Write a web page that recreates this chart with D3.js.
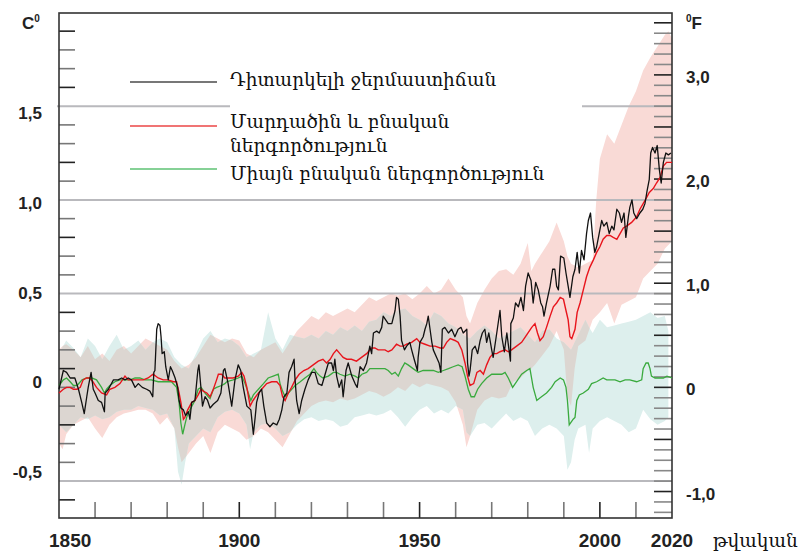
<!DOCTYPE html>
<html>
<head>
<meta charset="utf-8">
<script src="https://cdn.jsdelivr.net/npm/d3@7"></script>
<style>
  body { margin: 0; background: #fff; }
  svg { display: block; }
</style>
</head>
<body>
<svg id="chart"></svg>
<script>
// Observed temperature (black), [year, °C]
const observed = [
  [1850.0,-0.01],[1851.2,0.09],[1852.1,0.08],[1853.1,0.05],[1854.4,0.05],[1855.4,-0.01],[1856.3,-0.08],[1857.0,-0.14],[1857.7,-0.05],[1858.1,0.00],[1858.9,0.08],[1859.5,-0.01],[1860.0,-0.03],[1860.9,-0.07],[1861.8,-0.08],[1862.6,-0.13],[1862.8,-0.03],[1863.7,-0.01],[1865.1,0.04],[1866.4,0.04],[1867.4,0.05],[1868.3,0.04],[1869.2,0.05],[1870.1,0.04],[1871.1,0.00],[1872.0,0.02],[1873.1,0.00],[1874.3,-0.01],[1875.2,-0.02],[1876.0,-0.05],[1876.3,0.08],[1876.6,0.09],[1877.1,0.31],[1877.5,0.34],[1878.0,0.33],[1878.3,0.27],[1878.6,0.18],[1879.2,0.19],[1879.6,0.11],[1880.3,0.04],[1880.9,0.11],[1881.4,0.09],[1882.2,0.05],[1882.9,0.00],[1883.3,-0.07],[1883.8,-0.11],[1884.5,-0.12],[1885.1,-0.15],[1885.9,-0.13],[1886.3,-0.17],[1886.8,-0.08],[1887.7,-0.07],[1888.5,0.09],[1888.8,0.12],[1889.4,-0.01],[1889.8,-0.10],[1890.5,-0.05],[1891.2,-0.07],[1891.9,-0.11],[1892.8,-0.09],[1894.0,-0.07],[1894.9,-0.03],[1895.6,0.09],[1896.0,0.10],[1896.9,0.02],[1897.9,-0.10],[1898.8,0.04],[1899.7,0.12],[1900.4,0.09],[1901.1,0.00],[1902.1,-0.10],[1903.2,-0.12],[1903.9,-0.25],[1904.4,-0.16],[1904.8,-0.08],[1905.5,-0.03],[1906.2,-0.01],[1906.8,-0.10],[1907.6,-0.19],[1908.5,-0.21],[1909.4,-0.19],[1910.4,-0.20],[1911.1,-0.17],[1911.8,-0.12],[1912.4,-0.05],[1913.2,-0.03],[1913.8,0.08],[1914.5,0.11],[1915.2,0.15],[1915.4,0.06],[1915.9,-0.07],[1916.6,-0.14],[1917.3,-0.07],[1918.2,-0.01],[1919.1,0.04],[1920.1,0.08],[1921.0,0.08],[1921.9,0.02],[1922.9,0.01],[1923.8,0.07],[1924.7,0.13],[1925.6,0.13],[1926.1,0.09],[1926.5,0.15],[1927.0,0.06],[1927.7,0.00],[1928.4,0.04],[1928.8,-0.05],[1929.6,0.09],[1930.2,0.13],[1931.2,0.06],[1932.1,0.02],[1932.7,0.00],[1933.5,0.11],[1934.4,0.09],[1935.3,0.13],[1936.2,0.22],[1936.7,0.18],[1937.2,0.29],[1938.1,0.30],[1938.8,0.29],[1939.5,0.32],[1939.9,0.38],[1940.6,0.36],[1941.3,0.34],[1942.3,0.34],[1943.2,0.41],[1943.6,0.48],[1944.1,0.47],[1944.6,0.38],[1945.0,0.25],[1945.8,0.20],[1946.4,0.22],[1947.3,0.24],[1947.8,0.20],[1948.5,0.15],[1949.4,0.09],[1949.6,0.16],[1950.1,0.24],[1951.0,0.27],[1951.5,0.31],[1952.0,0.34],[1952.4,0.38],[1952.9,0.31],[1953.4,0.24],[1953.8,0.20],[1954.7,0.16],[1955.4,0.13],[1955.9,0.08],[1956.3,0.31],[1957.0,0.32],[1958.0,0.29],[1958.9,0.31],[1959.8,0.27],[1960.7,0.31],[1961.5,0.32],[1962.1,0.29],[1963.1,0.31],[1963.3,0.13],[1963.7,0.06],[1964.0,0.09],[1964.6,0.20],[1965.4,0.22],[1966.1,0.18],[1966.8,0.25],[1967.4,0.29],[1968.1,0.31],[1968.6,0.24],[1969.2,0.29],[1970.0,0.20],[1970.4,0.16],[1971.4,0.29],[1972.3,0.41],[1972.8,0.27],[1973.5,0.19],[1974.2,0.29],[1974.8,0.20],[1975.2,0.14],[1975.3,0.34],[1976.0,0.37],[1976.6,0.45],[1977.4,0.43],[1978.1,0.48],[1978.8,0.41],[1979.4,0.54],[1980.1,0.61],[1980.9,0.57],[1981.5,0.45],[1982.2,0.56],[1982.9,0.52],[1983.6,0.45],[1984.1,0.43],[1984.5,0.38],[1985.2,0.45],[1986.2,0.54],[1986.9,0.63],[1987.5,0.63],[1988.0,0.54],[1988.5,0.52],[1989.1,0.70],[1990.0,0.69],[1990.6,0.61],[1991.2,0.54],[1991.7,0.48],[1992.5,0.59],[1993.1,0.63],[1993.7,0.72],[1994.3,0.61],[1994.9,0.73],[1995.6,0.68],[1996.3,0.82],[1996.8,0.89],[1997.4,0.93],[1998.0,0.80],[1998.6,0.72],[1999.1,0.75],[1999.8,0.82],[2000.5,0.89],[2001.1,0.86],[2001.9,0.88],[2002.6,0.82],[2003.3,0.86],[2003.9,0.84],[2004.7,0.95],[2005.4,0.93],[2006.0,0.88],[2006.7,0.93],[2007.2,0.80],[2007.9,0.91],[2008.3,0.96],[2008.9,1.00],[2009.4,0.93],[2010.2,0.90],[2011.1,0.93],[2011.9,0.95],[2012.5,0.98],[2013.1,1.05],[2013.7,1.11],[2014.1,1.25],[2014.6,1.28],[2015.3,1.25],[2015.9,1.29],[2016.5,1.16],[2017.0,1.09],[2017.6,1.20],[2018.3,1.25],[2019.0,1.24],[2019.7,1.25]
];

// Simulated, human + natural forcing (red), [year, °C]
const humanNatural = [
  [1850.0,-0.03],[1851.2,-0.01],[1852.1,0.00],[1853.1,0.00],[1854.0,-0.01],[1855.0,-0.01],[1855.9,0.00],[1856.7,0.04],[1857.6,0.05],[1858.5,0.05],[1859.4,0.03],[1860.4,0.00],[1861.8,-0.03],[1863.2,-0.04],[1864.1,-0.01],[1865.5,0.00],[1866.9,0.02],[1868.3,0.06],[1869.2,0.04],[1870.6,0.04],[1872.0,0.04],[1873.4,0.04],[1874.7,0.05],[1876.1,0.07],[1877.5,0.05],[1878.9,0.04],[1880.3,0.04],[1881.7,0.03],[1882.6,0.03],[1883.3,-0.03],[1883.8,-0.08],[1884.5,-0.17],[1884.9,-0.16],[1885.7,-0.12],[1886.8,-0.08],[1887.7,-0.07],[1888.6,-0.04],[1889.4,-0.01],[1890.0,-0.02],[1891.0,-0.03],[1891.9,-0.05],[1892.8,-0.01],[1893.7,0.04],[1894.2,0.07],[1895.1,0.07],[1896.0,0.05],[1897.4,0.05],[1898.3,0.05],[1899.7,0.06],[1900.7,0.08],[1901.3,0.06],[1902.1,0.00],[1903.0,-0.10],[1903.8,-0.07],[1904.9,-0.04],[1906.2,-0.01],[1907.6,0.02],[1909.0,0.03],[1910.4,0.03],[1911.3,0.01],[1912.0,-0.05],[1912.7,-0.07],[1913.6,-0.03],[1914.5,0.00],[1915.5,0.04],[1916.6,0.07],[1917.9,0.09],[1919.1,0.10],[1920.5,0.12],[1921.9,0.14],[1923.2,0.15],[1924.2,0.13],[1925.2,0.15],[1926.1,0.18],[1927.0,0.20],[1927.9,0.18],[1928.8,0.16],[1929.8,0.15],[1931.1,0.15],[1932.5,0.14],[1933.9,0.16],[1935.3,0.18],[1936.7,0.21],[1937.6,0.21],[1938.5,0.20],[1939.5,0.20],[1940.4,0.20],[1941.3,0.19],[1942.3,0.20],[1943.6,0.23],[1944.6,0.22],[1945.5,0.22],[1946.4,0.23],[1947.8,0.24],[1949.2,0.26],[1950.1,0.24],[1951.5,0.23],[1952.9,0.22],[1954.3,0.22],[1955.7,0.21],[1956.6,0.21],[1957.5,0.24],[1958.5,0.26],[1959.8,0.25],[1960.7,0.24],[1961.7,0.20],[1962.6,0.13],[1963.3,0.06],[1964.0,0.01],[1965.0,0.02],[1965.9,0.08],[1966.8,0.09],[1967.7,0.07],[1968.6,0.12],[1969.5,0.16],[1970.4,0.18],[1971.4,0.18],[1972.3,0.19],[1973.7,0.20],[1974.6,0.19],[1975.5,0.20],[1976.9,0.22],[1978.3,0.24],[1979.7,0.28],[1981.1,0.32],[1982.0,0.34],[1982.7,0.29],[1983.4,0.25],[1984.3,0.27],[1985.2,0.32],[1986.2,0.38],[1987.1,0.43],[1988.0,0.45],[1989.0,0.48],[1989.9,0.47],[1990.6,0.41],[1991.2,0.36],[1991.7,0.27],[1992.2,0.26],[1993.1,0.31],[1993.7,0.40],[1994.5,0.45],[1995.4,0.52],[1996.3,0.59],[1997.2,0.64],[1998.2,0.68],[1999.1,0.72],[2000.0,0.75],[2000.9,0.79],[2001.9,0.81],[2002.8,0.81],[2003.7,0.80],[2004.7,0.79],[2005.6,0.82],[2006.5,0.85],[2007.4,0.86],[2008.8,0.88],[2010.2,0.91],[2011.1,0.95],[2012.0,0.98],[2012.9,1.01],[2013.7,1.04],[2014.8,1.06],[2015.7,1.09],[2016.7,1.12],[2017.6,1.18],[2018.5,1.20],[2020.0,1.20]
];

// Simulated, natural forcing only (green), [year, °C]
const naturalOnly = [
  [1850.0,0.01],[1851.2,0.04],[1852.1,0.05],[1853.1,0.03],[1854.0,0.01],[1855.0,0.01],[1856.4,0.04],[1857.7,0.05],[1859.1,0.05],[1860.4,0.04],[1861.8,0.00],[1862.6,-0.03],[1863.2,-0.01],[1864.1,0.01],[1865.5,0.03],[1866.9,0.04],[1868.3,0.04],[1869.7,0.04],[1871.1,0.05],[1872.4,0.05],[1873.8,0.04],[1875.6,0.04],[1877.5,0.03],[1879.4,0.03],[1881.2,0.03],[1882.6,0.00],[1883.3,-0.08],[1883.8,-0.19],[1884.3,-0.25],[1884.9,-0.20],[1885.4,-0.16],[1886.3,-0.12],[1887.7,-0.07],[1888.6,-0.01],[1889.4,0.00],[1890.5,-0.03],[1891.4,-0.05],[1891.9,-0.06],[1892.8,-0.01],[1893.7,0.00],[1895.1,0.01],[1896.0,0.02],[1896.5,0.03],[1898.3,0.04],[1899.7,0.05],[1900.7,0.06],[1901.6,0.02],[1902.5,-0.03],[1903.2,-0.07],[1903.9,-0.04],[1905.3,-0.01],[1906.7,0.02],[1908.0,0.05],[1909.4,0.06],[1910.8,0.07],[1911.3,0.02],[1912.0,-0.02],[1912.7,-0.05],[1914.1,-0.02],[1915.5,0.01],[1916.9,0.03],[1918.2,0.05],[1919.6,0.07],[1920.7,0.10],[1921.4,0.08],[1922.4,0.06],[1923.2,0.05],[1924.7,0.06],[1926.1,0.08],[1927.0,0.08],[1927.9,0.07],[1929.3,0.06],[1930.7,0.07],[1932.1,0.06],[1933.0,0.05],[1934.0,0.07],[1935.3,0.08],[1936.2,0.10],[1937.6,0.10],[1939.0,0.10],[1940.4,0.10],[1941.3,0.09],[1942.3,0.07],[1943.2,0.08],[1944.1,0.06],[1945.0,0.10],[1945.9,0.13],[1946.8,0.12],[1948.2,0.10],[1949.6,0.08],[1951.0,0.09],[1952.4,0.09],[1953.8,0.09],[1955.2,0.08],[1956.6,0.09],[1958.0,0.10],[1959.3,0.11],[1960.7,0.12],[1961.8,0.11],[1962.6,0.06],[1963.5,-0.01],[1964.3,-0.05],[1965.2,-0.05],[1966.1,-0.01],[1967.2,0.02],[1968.6,0.05],[1970.0,0.07],[1971.4,0.07],[1972.8,0.07],[1973.7,0.08],[1974.6,0.05],[1975.8,0.00],[1976.9,0.03],[1978.3,0.07],[1979.7,0.09],[1980.6,0.10],[1981.5,0.00],[1982.5,-0.07],[1983.8,-0.05],[1985.2,-0.03],[1986.6,0.00],[1987.6,0.03],[1989.0,0.05],[1989.9,0.04],[1990.6,0.00],[1991.0,-0.07],[1991.2,-0.12],[1991.5,-0.20],[1992.6,-0.17],[1993.1,-0.16],[1993.6,-0.07],[1994.3,-0.04],[1995.4,-0.03],[1996.8,-0.01],[1997.7,0.02],[1999.1,0.03],[2000.9,0.05],[2001.9,0.04],[2003.3,0.04],[2004.2,0.04],[2005.6,0.03],[2007.0,0.04],[2008.3,0.04],[2010.2,0.03],[2011.6,0.04],[2012.0,0.10],[2012.8,0.13],[2013.4,0.13],[2013.9,0.10],[2014.3,0.06],[2015.3,0.05],[2016.7,0.05],[2017.6,0.05],[2018.6,0.06],[2020.0,0.05]
];

// 5-95 % ranges, [year, low, high]
const humanBand = [
  [1850,-0.30,0.20],[1851,-0.33,0.22],[1852,-0.25,0.23],[1854,-0.20,0.20],[1856,-0.18,0.16],[1858,-0.16,0.22],[1860,-0.22,0.15],[1862,-0.27,0.18],[1864,-0.20,0.14],[1866,-0.16,0.20],[1868,-0.14,0.22],[1870,-0.13,0.18],[1872,-0.12,0.22],[1874,-0.12,0.26],[1876,-0.14,0.24],[1878,-0.20,0.22],[1880,-0.16,0.20],[1882,-0.22,0.14],[1883,-0.32,0.12],[1884,-0.40,0.10],[1886,-0.35,0.12],[1888,-0.30,0.16],[1890,-0.26,0.22],[1892,-0.35,0.28],[1894,-0.24,0.26],[1896,-0.20,0.24],[1898,-0.22,0.26],[1900,-0.24,0.25],[1902,-0.28,0.18],[1904,-0.26,0.16],[1906,-0.22,0.20],[1908,-0.24,0.22],[1910,-0.28,0.24],[1912,-0.32,0.18],[1914,-0.25,0.24],[1916,-0.18,0.30],[1918,-0.14,0.34],[1920,-0.10,0.38],[1922,-0.08,0.36],[1924,-0.07,0.40],[1926,-0.08,0.38],[1928,-0.06,0.40],[1930,-0.07,0.42],[1932,-0.06,0.40],[1934,-0.04,0.44],[1936,-0.02,0.48],[1938,-0.03,0.46],[1940,-0.05,0.48],[1942,-0.03,0.50],[1944,0.00,0.49],[1946,-0.02,0.50],[1948,0.02,0.47],[1950,0.00,0.50],[1952,0.02,0.54],[1954,0.01,0.50],[1956,0.00,0.52],[1958,-0.02,0.58],[1960,-0.08,0.52],[1962,-0.20,0.48],[1963,-0.32,0.38],[1964,-0.26,0.34],[1966,-0.12,0.45],[1968,-0.07,0.52],[1970,-0.05,0.58],[1972,-0.06,0.62],[1974,-0.05,0.63],[1976,0.03,0.60],[1978,0.05,0.66],[1980,0.09,0.77],[1981,0.10,0.62],[1982,0.12,0.66],[1984,0.17,0.72],[1986,0.22,0.78],[1988,0.30,0.88],[1990,0.20,0.78],[1991,-0.05,0.70],[1992,-0.10,0.66],[1993,0.10,0.65],[1994,0.22,0.64],[1996,0.25,0.66],[1998,0.36,0.68],[1999,0.38,1.00],[2000,0.40,1.22],[2002,0.45,1.35],[2004,0.34,1.30],[2006,0.44,1.40],[2008,0.46,1.50],[2010,0.48,1.58],[2012,0.58,1.69],[2014,0.62,1.76],[2016,0.66,1.82],[2018,0.74,1.88],[2019,0.76,1.90],[2020,0.78,1.86]
];
const naturalBand = [
  [1850,-0.20,0.18],[1852,-0.24,0.25],[1854,-0.20,0.21],[1856,-0.16,0.16],[1858,-0.17,0.26],[1860,-0.15,0.22],[1862,-0.17,0.15],[1864,-0.16,0.22],[1866,-0.13,0.28],[1868,-0.12,0.20],[1870,-0.12,0.22],[1872,-0.10,0.25],[1874,-0.11,0.20],[1876,-0.12,0.24],[1878,-0.15,0.26],[1880,-0.14,0.24],[1882,-0.22,0.16],[1883,-0.45,0.14],[1884,-0.52,0.12],[1885,-0.40,0.11],[1886,-0.30,0.10],[1888,-0.26,0.18],[1890,-0.22,0.26],[1892,-0.24,0.30],[1894,-0.16,0.24],[1896,-0.13,0.26],[1898,-0.12,0.25],[1900,-0.14,0.22],[1902,-0.20,0.16],[1903,-0.33,0.17],[1904,-0.24,0.18],[1906,-0.20,0.20],[1908,-0.19,0.40],[1910,-0.22,0.26],[1912,-0.26,0.20],[1914,-0.24,0.28],[1916,-0.20,0.27],[1918,-0.17,0.26],[1920,-0.16,0.28],[1922,-0.18,0.26],[1924,-0.17,0.30],[1926,-0.18,0.28],[1928,-0.21,0.32],[1930,-0.20,0.30],[1932,-0.16,0.33],[1934,-0.15,0.30],[1936,-0.14,0.35],[1938,-0.15,0.36],[1940,-0.14,0.40],[1942,-0.12,0.38],[1944,-0.16,0.41],[1946,-0.21,0.42],[1948,-0.16,0.38],[1950,-0.12,0.36],[1952,-0.10,0.33],[1954,-0.14,0.40],[1956,-0.12,0.38],[1958,-0.14,0.34],[1960,-0.10,0.32],[1962,-0.12,0.28],[1963,-0.24,0.27],[1964,-0.26,0.26],[1966,-0.20,0.30],[1968,-0.19,0.33],[1970,-0.22,0.30],[1972,-0.18,0.26],[1974,-0.14,0.28],[1976,-0.18,0.30],[1978,-0.16,0.32],[1980,-0.18,0.28],[1982,-0.26,0.24],[1984,-0.22,0.30],[1986,-0.20,0.31],[1988,-0.22,0.26],[1990,-0.26,0.24],[1991,-0.44,0.22],[1992,-0.40,0.20],[1993,-0.28,0.24],[1994,-0.22,0.28],[1996,-0.20,0.36],[1997,-0.35,0.32],[1998,-0.22,0.29],[2000,-0.18,0.36],[2002,-0.16,0.32],[2004,-0.18,0.33],[2006,-0.20,0.34],[2008,-0.24,0.35],[2010,-0.22,0.36],[2012,-0.12,0.38],[2014,-0.17,0.40],[2016,-0.20,0.37],[2018,-0.18,0.38],[2019,-0.16,0.30]
];

// Axes
const gridC = [1.5, 1.0, 0.5, -0.5];
const labelsC = [1.5, 1.0, 0.5, 0, -0.5];
const labelsF = [3, 2, 1, 0, -1];
const yearLabels = [1850, 1900, 1950, 2000, 2020];
const legendLabels = [
  ["Դիտարկելի ջերմաստիճան"],
  ["Մարդածին և բնական", "ներգործություն"],
  ["Միայն բնական ներգործություն"]
];

const fmt = v => v === 0 ? "0" : d3.format(".1f")(v).replace(".", ",").replace("\u2212", "-");
const numFont = "'Liberation Sans', Arial, sans-serif";
const armFont = "'DejaVu Serif', serif";

const width = 804, height = 551;
const plotLeft = 59, plotRight = 672, plotTop = 13, plotBottom = 518;

const svg = d3.select("#chart").attr("width", width).attr("height", height);
svg.append("rect").attr("width", width).attr("height", height).attr("fill", "#fff");

const x = d3.scaleLinear([1850, 2020], [plotLeft, plotRight]);
const y = d3.scaleLinear([-0.7, 2.0], [518.6, 12.4]);
const yF = f => y(f / 1.8);
// label rows in the original are spaced a little tighter than the grid
const yLabel = d3.scaleLinear([-0.5, 1.5], [472, 113]);

// Ranges: pink, teal, and the part where both overlap in grey-beige
const area = d3.area().x(d => x(d[0])).y0(d => y(d[1])).y1(d => y(d[2]));
svg.append("clipPath").attr("id", "human-range")
  .append("path").datum(humanBand).attr("d", area);
svg.append("path").datum(humanBand).attr("d", area).attr("fill", "#f9dad6");
svg.append("path").datum(naturalBand).attr("d", area).attr("fill", "#ddefed");
svg.append("path").datum(naturalBand).attr("d", area)
  .attr("clip-path", "url(#human-range)").attr("fill", "#dcd6d1");

// Grid lines (1.5 is broken by the legend)
gridC.forEach(v => {
  const segs = v === 1.5 ? [[plotLeft - 2, 230], [582, plotRight]] : [[plotLeft, plotRight]];
  segs.forEach(s => svg.append("line")
    .attr("x1", s[0]).attr("x2", s[1]).attr("y1", y(v)).attr("y2", y(v))
    .attr("stroke", "#b9b9bd").attr("stroke-width", 2));
});

// Left ticks, every 0.1 °C
d3.range(-6, 20).map(i => i / 10)
  .filter(v => v === 0 || Math.abs(v * 2 - Math.round(v * 2)) > 1e-6)
  .forEach((v, i) => svg.append("line")
    .attr("x1", plotLeft).attr("x2", plotLeft + 16).attr("y1", y(v)).attr("y2", y(v))
    .attr("stroke", i % 3 === 0 ? "#222" : "#777").attr("stroke-width", 1.6));

// Right ticks, every 0.1 °F
d3.range(-12, 36).map(i => i / 10).forEach(f => {
  const major = Math.abs(f * 2 - Math.round(f * 2)) < 1e-6;
  svg.append("line")
    .attr("x1", plotRight - 18).attr("x2", plotRight).attr("y1", yF(f)).attr("y2", yF(f))
    .attr("stroke", major ? "#222" : "#888").attr("stroke-width", 1.6);
});

// Bottom ticks, every 10 years
d3.range(1860, 2020, 10).forEach(yr => svg.append("line")
  .attr("x1", x(yr)).attr("x2", x(yr)).attr("y1", plotBottom).attr("y2", plotBottom - 16)
  .attr("stroke", yr % 50 === 0 ? "#222" : "#777").attr("stroke-width", 1.6));

// Frame
svg.append("rect").attr("x", plotLeft).attr("y", plotTop)
  .attr("width", plotRight - plotLeft).attr("height", plotBottom - plotTop)
  .attr("fill", "none").attr("stroke", "#333").attr("stroke-width", 1.6);

// Series
const line = d3.line().x(d => x(d[0])).y(d => y(d[1]));
svg.append("path").datum(naturalOnly).attr("d", line)
  .attr("fill", "none").attr("stroke", "#3aaa3e").attr("stroke-width", 1.3);
svg.append("path").datum(humanNatural).attr("d", line)
  .attr("fill", "none").attr("stroke", "#e8141c").attr("stroke-width", 1.4);
svg.append("path").datum(observed).attr("d", line)
  .attr("fill", "none").attr("stroke", "#111").attr("stroke-width", 1.3)
  .attr("stroke-linejoin", "round");

// Axis labels
const lab = svg.append("g").attr("font-family", numFont).attr("font-weight", "bold")
  .attr("font-size", 17).attr("fill", "#222");
labelsC.forEach(v => lab.append("text").attr("x", 42).attr("y", yLabel(v))
  .attr("dy", "0.36em").attr("text-anchor", "end").text(fmt(v)));
labelsF.forEach(v => lab.append("text").attr("x", 686).attr("y", yF(v) + 2)
  .attr("dy", "0.36em").text(fmt(v)));
yearLabels.forEach(yr => lab.append("text")
  .attr("x", yr === 1850 ? x(yr) - 10 : x(yr)).attr("y", 547)
  .attr("text-anchor", yr === 1850 ? "start" : "middle")
  .attr("font-size", 19).text(yr));

// Units
const cu = lab.append("text").attr("x", 22).attr("y", 29);
cu.append("tspan").text("C");
cu.append("tspan").attr("font-size", 10).attr("dy", -7).text("0");
const fu = lab.append("text").attr("x", 686).attr("y", 29);
fu.append("tspan").attr("font-size", 10).attr("dy", -7).text("0");
fu.append("tspan").attr("dy", 7).text("F");

svg.append("text").attr("x", 713).attr("y", 547)
  .attr("font-family", armFont).attr("font-size", 18.5).attr("fill", "#111")
  .text("թվական");

// Legend
const legendColors = ["#777", "#f07474", "#86d196"];
const legendLineY = [82, 126, 169];
const legendTextY = [[86], [128, 152], [180]];
const lg = svg.append("g");
legendLabels.forEach((lines, i) => {
  lg.append("line").attr("x1", 130).attr("x2", 217)
    .attr("y1", legendLineY[i]).attr("y2", legendLineY[i])
    .attr("stroke", legendColors[i]).attr("stroke-width", 2);
  lines.forEach((t, j) => lg.append("text")
    .attr("x", 230).attr("y", legendTextY[i][j])
    .attr("font-family", armFont).attr("font-size", 18.5).attr("fill", "#111")
    .text(t));
});
</script>
</body>
</html>
